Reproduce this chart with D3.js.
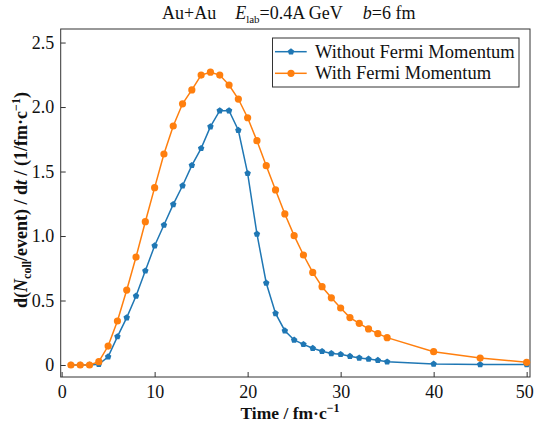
<!DOCTYPE html>
<html>
<head>
<meta charset="utf-8">
<script src="https://cdn.jsdelivr.net/npm/d3@7"></script>
<style>
body { margin: 0; background: #fff; }
svg { display: block; }
svg text { font-family: "Liberation Serif", "Times New Roman", serif; fill: #111; }
</style>
</head>
<body>
<div id="chart"></div>
<script>
const times = [1, 2, 3, 4, 5, 6, 7, 8, 9, 10, 11, 12, 13, 14, 15, 16, 17, 18, 19, 20,
    21, 22, 23, 24, 25, 26, 27, 28, 29, 30, 31, 32, 33, 34, 35, 40, 45, 50];
const withoutFermi = [0, 0, 0, 0.005, 0.064, 0.22, 0.367, 0.535, 0.73, 0.925, 1.085, 1.245, 1.39, 1.548, 1.68, 1.848, 1.972, 1.972, 1.82, 1.486,
    1.016, 0.636, 0.40, 0.266, 0.194, 0.16, 0.13, 0.106, 0.09, 0.083, 0.068, 0.055, 0.047, 0.037, 0.025, 0.008, 0.004, 0.003];
const withFermi = [0, 0, 0, 0.026, 0.147, 0.341, 0.581, 0.837, 1.111, 1.375, 1.636, 1.853, 2.025, 2.133, 2.248, 2.27, 2.248, 2.171, 2.062, 1.917,
    1.739, 1.545, 1.357, 1.171, 1.003, 0.853, 0.718, 0.607, 0.521, 0.442, 0.368, 0.323, 0.28, 0.243, 0.212, 0.103, 0.054, 0.021];
const seriesNames = ["Without Fermi Momentum", "With Fermi Momentum"];
const xTicks = [0, 10, 20, 30, 40, 50];
const yTicks = [0, 0.5, 1.0, 1.5, 2.0, 2.5];
const yTickLabels = ["0", "0.5", "1.0", "1.5", "2.0", "2.5"];

const colors = ["#1f77b4", "#ff7f0e"];
const serif = '"Liberation Serif", "Times New Roman", serif';
const W = 534, H = 422;
const plot = { left: 60.7, right: 530, top: 29, bottom: 377 };

const svg = d3.select("#chart").append("svg")
    .attr("width", W)
    .attr("height", H);

const xScale = d3.scaleLinear().domain([-0.1, 50.36]).range([plot.left, plot.right]);
const yScale = d3.scaleLinear().domain([-0.093, 2.605]).range([plot.bottom, plot.top]);

// axes, ticks pointing inward
const xAxis = d3.axisBottom(xScale).tickValues(xTicks).tickFormat(d3.format("d")).tickSize(-5).tickPadding(8.5);
svg.append("g")
    .attr("class", "x-axis")
    .attr("transform", `translate(0,${plot.bottom})`)
    .call(xAxis);

const yAxis = d3.axisLeft(yScale).tickValues(yTicks).tickFormat((d, i) => yTickLabels[i]).tickSize(-5).tickPadding(6.5);
svg.append("g")
    .attr("class", "y-axis")
    .attr("transform", `translate(${plot.left},0)`)
    .call(yAxis);

svg.selectAll(".x-axis, .y-axis").attr("font-family", null).attr("font-size", null);
svg.selectAll(".domain").remove();
svg.selectAll(".tick line").attr("stroke", "#333").attr("stroke-width", 1);
svg.selectAll(".tick text")
    .style("font-family", serif)
    .style("font-size", "18px")
    .attr("fill", "#111");
// last x label sits at the window edge, nudge it in a little
svg.selectAll(".x-axis .tick text").filter(d => d === 50).attr("dx", -2.5);

// frame
svg.append("rect")
    .attr("x", plot.left)
    .attr("y", plot.top)
    .attr("width", plot.right - plot.left)
    .attr("height", plot.bottom - plot.top)
    .attr("fill", "none")
    .attr("stroke", "#333")
    .attr("stroke-width", 1);

// pentagon marker like matplotlib "p"
const pentagon = {
    draw(context, size) {
        const r = Math.sqrt(size) * 0.62;
        for (let i = 0; i < 5; i++) {
            const a = -Math.PI / 2 + i * 2 * Math.PI / 5;
            const px = r * Math.cos(a), py = r * Math.sin(a);
            if (i === 0) context.moveTo(px, py); else context.lineTo(px, py);
        }
        context.closePath();
    }
};

const series = [
    { name: seriesNames[0], values: withoutFermi, color: colors[0], marker: "pentagon" },
    { name: seriesNames[1], values: withFermi, color: colors[1], marker: "circle" }
];

const line = d3.line()
    .x(d => xScale(d.t))
    .y(d => yScale(d.v));

series.forEach(s => {
    const pts = times.map((t, i) => ({ t: t, v: s.values[i] }));
    const g = svg.append("g");
    g.append("path")
        .datum(pts)
        .attr("d", line)
        .attr("fill", "none")
        .attr("stroke", s.color)
        .attr("stroke-width", 1.5);
    if (s.marker === "circle") {
        g.selectAll("circle")
            .data(pts)
            .enter().append("circle")
            .attr("cx", d => xScale(d.t))
            .attr("cy", d => yScale(d.v))
            .attr("r", 3.6)
            .attr("fill", s.color);
    } else {
        g.selectAll("path.mk")
            .data(pts)
            .enter().append("path")
            .attr("class", "mk")
            .attr("transform", d => `translate(${xScale(d.t)},${yScale(d.v)})`)
            .attr("d", d3.symbol().type(pentagon).size(30))
            .attr("fill", s.color);
    }
});

// legend
const legend = svg.append("g").attr("class", "legend");
legend.append("rect")
    .attr("x", 272.5)
    .attr("y", 38)
    .attr("width", 246.5)
    .attr("height", 49)
    .attr("fill", "#fff")
    .attr("stroke", "#333")
    .attr("stroke-width", 1);
series.forEach((s, i) => {
    const ly = 51.7 + i * 21.6;
    legend.append("line")
        .attr("x1", 275).attr("x2", 306.7)
        .attr("y1", ly).attr("y2", ly)
        .attr("stroke", s.color)
        .attr("stroke-width", 1.5);
    if (s.marker === "circle") {
        legend.append("circle").attr("cx", 291).attr("cy", ly).attr("r", 3.6).attr("fill", s.color);
    } else {
        legend.append("path")
            .attr("transform", `translate(291,${ly})`)
            .attr("d", d3.symbol().type(pentagon).size(30))
            .attr("fill", s.color);
    }
    legend.append("text")
        .attr("x", 315)
        .attr("y", ly + 6)
        .style("font-size", "18.5px")
        .text(s.name);
});

// title
const title = svg.append("text")
    .attr("x", 162)
    .attr("y", 18.5)
    .style("font-size", "18px");
title.append("tspan").text("Au+Au");
title.append("tspan").attr("dx", 19).attr("font-style", "italic").text("E");
title.append("tspan").style("font-size", "11px").attr("dy", 4).text("lab");
title.append("tspan").attr("dy", -4).text("=0.4A GeV");
title.append("tspan").attr("dx", 20).attr("font-style", "italic").text("b");
title.append("tspan").text("=6 fm");

// x label
const xLabel = svg.append("text")
    .attr("x", 290)
    .attr("y", 419)
    .attr("text-anchor", "middle")
    .style("font-size", "17.5px")
    .attr("font-weight", "bold");
xLabel.append("tspan").text("Time / fm·c");
xLabel.append("tspan").style("font-size", "12px").attr("dy", -7).text("−1");

// y label
const yLabel = svg.append("text")
    .attr("transform", "translate(27,200) rotate(-90)")
    .attr("text-anchor", "middle")
    .style("font-size", "18px")
    .attr("font-weight", "bold");
yLabel.append("tspan").text("d(");
yLabel.append("tspan").attr("font-style", "italic").text("N");
yLabel.append("tspan").style("font-size", "12px").attr("dy", 4).text("coll");
yLabel.append("tspan").attr("dy", -4).text("/event) / d");
yLabel.append("tspan").attr("font-style", "italic").text("t");
yLabel.append("tspan").text(" / (1/fm·c");
yLabel.append("tspan").style("font-size", "12px").attr("dy", -7).text("−1");
yLabel.append("tspan").attr("dy", 7).text(")");
</script>
</body>
</html>
